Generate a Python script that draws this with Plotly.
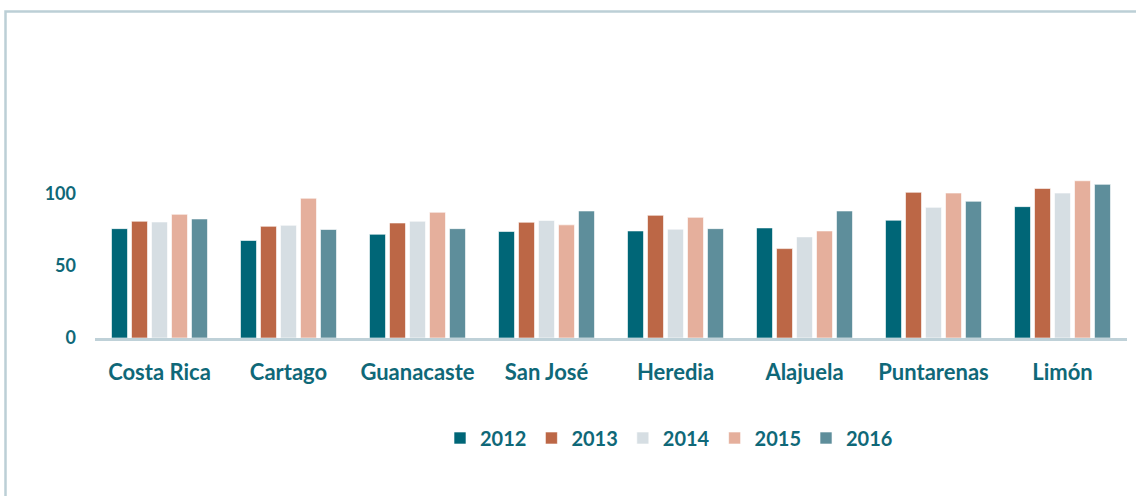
import plotly.graph_objects as go

categories = ["Costa Rica", "Cartago", "Guanacaste", "San José", "Heredia", "Alajuela", "Puntarenas", "Limón"]
years = ["2012", "2013", "2014", "2015", "2016"]
v2012 = [75.6, 67.4, 71.7, 73.6, 74.0, 76.1, 81.4, 90.8]
v2013 = [80.7, 77.2, 79.5, 80.0, 84.8, 61.8, 100.7, 103.4]
v2014 = [80.2, 77.9, 80.7, 81.2, 75.2, 69.9, 90.3, 100.2]
v2015 = [85.5, 96.6, 86.9, 78.2, 83.4, 74.0, 100.2, 108.7]
v2016 = [82.3, 75.0, 75.6, 87.8, 75.6, 87.8, 94.5, 106.2]
series = [v2012, v2013, v2014, v2015, v2016]
colors = ["#006677", "#BC6746", "#D6DEE3", "#E5AF9C", "#5E8E9B"]
tick_vals = [0, 50, 100]
tick_text = ["0", "50", "100"]

TEXT = "#0F6878"
FONT = "Lato"

W, H = 1136, 496
ML, MR, MT, MB = 95, 9, 121, 158
PW, PH = W - ML - MR, H - MT - MB

fig = go.Figure()
for name, vals, col in zip(years, series, colors):
    fig.add_trace(go.Bar(
        x=categories, y=vals, name=name,
        marker=dict(color=col, line=dict(color="rgba(255,255,255,0.6)", width=1)),
    ))

def px_x(p):
    return (p - ML) / PW

def px_y(p):
    return (H - MB - p) / PH

fig.add_shape(type="rect", xref="paper", yref="paper",
              x0=px_x(5.5), x1=px_x(1150), y0=px_y(11.5), y1=px_y(510),
              line=dict(color="#BCCFD6", width=2.5), fillcolor="rgba(0,0,0,0)", layer="below")

fig.update_layout(
    width=W, height=H,
    margin=dict(l=ML, r=MR, t=MT, b=MB),
    paper_bgcolor="white", plot_bgcolor="white",
    barmode="group", bargap=0.225, bargroupgap=0.2,
    font=dict(family=FONT, color=TEXT, size=19),
    legend=dict(orientation="h", x=px_x(669), xanchor="center", y=px_y(438), yanchor="middle",
                font=dict(family=FONT, size=20, color=TEXT, weight="bold"),
                itemwidth=30, tracegroupgap=0, traceorder="normal"),
    showlegend=True,
)
fig.update_xaxes(showline=True, linecolor="#BFD1D8", linewidth=2.5, showgrid=False,
                 ticks="", ticklabelstandoff=13,
                 tickfont=dict(family=FONT, size=22, color=TEXT, weight="bold"))
fig.update_yaxes(range=[0, 150], showgrid=False, zeroline=False, showline=False,
                 tickvals=tick_vals, ticktext=tick_text, ticklabelstandoff=18,
                 tickfont=dict(family=FONT, size=18, color=TEXT, weight="bold"))

fig.write_html("out.html", config={"displayModeBar": False},
               post_script="document.body.style.margin='0';document.body.style.overflow='hidden';")
